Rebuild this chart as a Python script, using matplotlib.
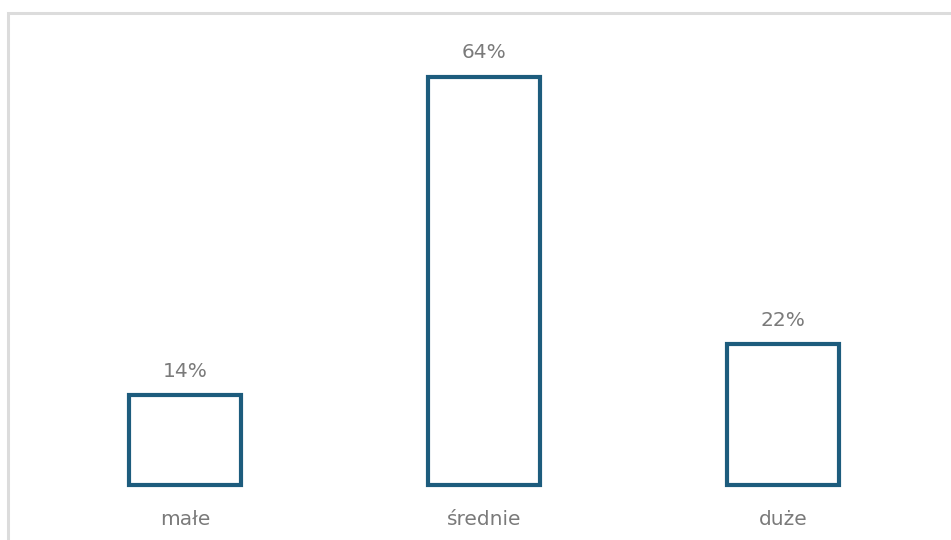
import matplotlib.pyplot as plt
from matplotlib.patches import Rectangle

categories = ['małe', 'średnie', 'duże']
values = [14, 64, 22]
labels = ['14%', '64%', '22%']

edge = '#1d5c7d'
txt = '#7a7a7a'

fig = plt.figure(figsize=(9.51, 5.4), dpi=100)
W, H = 951.0, 540.0

# outer light frame (only top and left visible in the original crop)
frame = Rectangle((7.5 / W, -0.05), 1.1, (H - 12.5) / H + 0.05,
                  transform=fig.transFigure, fill=False,
                  edgecolor='#dcdcdc', linewidth=2.2, clip_on=False)
fig.patches.append(frame)

ax = fig.add_axes([35.5 / W, 55.5 / H, 897 / W, 446.25 / H])
x = range(len(categories))
bars = ax.bar(x, values, width=0.375, facecolor='white', edgecolor=edge, linewidth=3)
for b in bars:
    b.set_clip_on(False)
ax.set_xlim(-0.5, 2.5)
ax.set_ylim(0, 70)
ax.axis('off')

for i, v in enumerate(values):
    ax.annotate(labels[i], (i, v), xytext=(0, 13), textcoords='offset points',
                ha='center', va='baseline', fontsize=14.5, color=txt)
    ax.annotate(categories[i], (i, 0), xytext=(0, -29), textcoords='offset points',
                ha='center', va='baseline', fontsize=14.5, color=txt)

fig.savefig('out.png', dpi=100, facecolor='white')
